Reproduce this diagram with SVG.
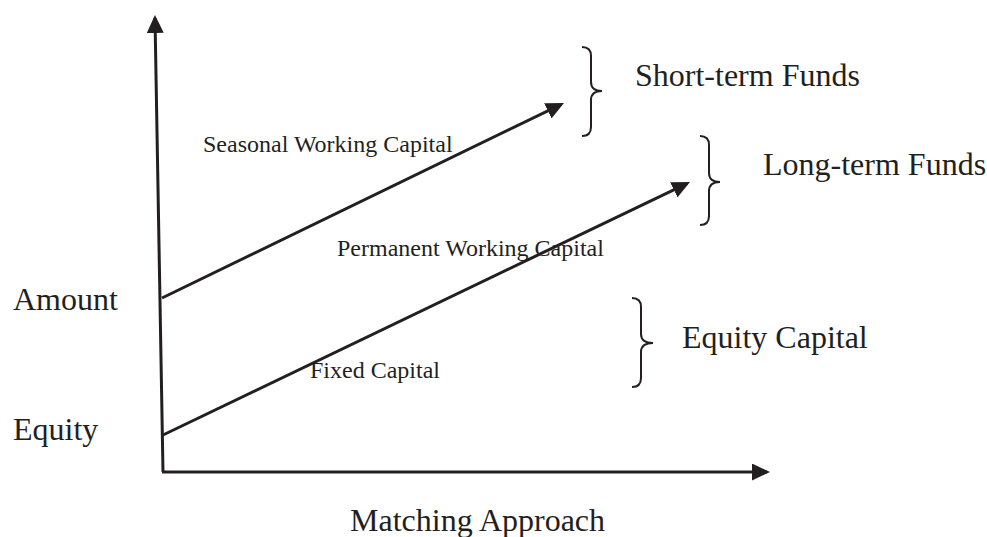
<svg xmlns="http://www.w3.org/2000/svg" width="987" height="537" viewBox="0 0 987 537">
  <style>
    .big { font-family: "Liberation Serif", "Times New Roman", serif; font-size: 32px; fill: #231f20; }
    .small { font-family: "Liberation Serif", "Times New Roman", serif; font-size: 24px; fill: #231f20; }
    .line { stroke: #231f20; stroke-width: 3; fill: none; }
    .brace { stroke: #231f20; stroke-width: 2; fill: none; }
  </style>
  <defs>
    <marker id="arrow" markerUnits="userSpaceOnUse" markerWidth="18" markerHeight="17" refX="15" refY="8.5" orient="auto">
      <path d="M0,0 L18,8.5 L0,17 Z" fill="#231f20"/>
    </marker>
  </defs>
  <rect width="987" height="537" fill="#ffffff"/>

  <g id="connectors">
    <line id="y-axis" class="line" x1="163" y1="472" x2="155" y2="18" marker-end="url(#arrow)"/>
    <line id="x-axis" class="line" x1="162" y1="472" x2="767" y2="472" marker-end="url(#arrow)"/>
    <line id="seasonal-arrow" class="line" x1="162" y1="298" x2="561.3" y2="104.3" marker-end="url(#arrow)"/>
    <line id="permanent-arrow" class="line" x1="163" y1="435" x2="687.3" y2="183.3" marker-end="url(#arrow)"/>
  </g>

  <g id="axis-amount"><text class="big" x="13" y="310">Amount</text></g>
  <g id="axis-equity"><text class="big" x="13" y="440">Equity</text></g>
  <g id="axis-matching"><text class="big" x="350" y="531">Matching Approach</text></g>

  <g id="label-seasonal"><text class="small" x="203" y="152">Seasonal Working Capital</text></g>
  <g id="label-permanent"><text class="small" x="337" y="256">Permanent Working Capital</text></g>
  <g id="label-fixed"><text class="small" x="310" y="378">Fixed Capital</text></g>

  <g id="short-term-funds">
    <path class="brace" d="M582,47 Q591,47 591,56 L591,82 Q591,91 602,91 Q591,91 591,100 L591,127 Q591,136 582,136"/>
    <text class="big" x="635" y="86">Short-term Funds</text>
  </g>
  <g id="long-term-funds">
    <path class="brace" d="M700,136 Q709,136 709,145 L709,173 Q709,182 720,182 Q709,182 709,191 L709,216 Q709,225 700,225"/>
    <text class="big" x="763" y="175">Long-term Funds</text>
  </g>
  <g id="equity-capital">
    <path class="brace" d="M632,298 Q641,298 641,307 L641,334 Q641,343 653,343 Q641,343 641,352 L641,378 Q641,387 632,387"/>
    <text class="big" x="682" y="348">Equity Capital</text>
  </g>
</svg>
